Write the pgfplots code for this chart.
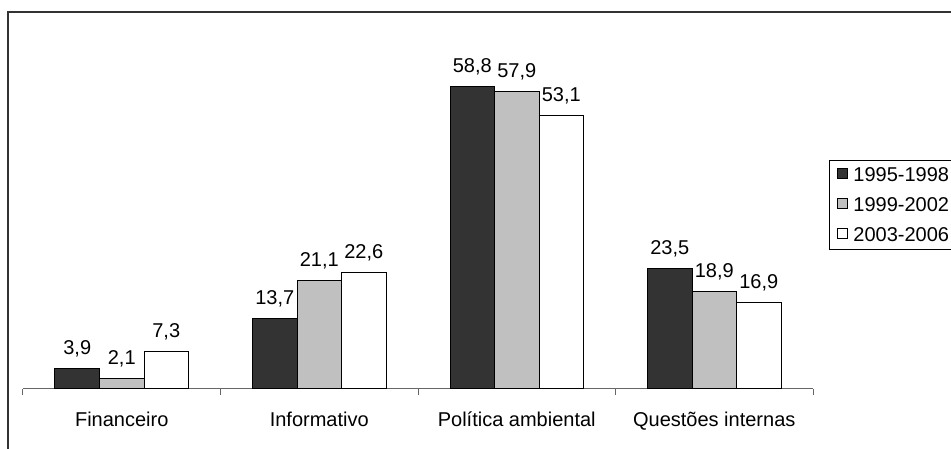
\documentclass[border=0pt]{standalone}
\usepackage{fontspec}
\setmainfont{Liberation Sans}
\usepackage{pgfplots}
\pgfplotsset{compat=1.18}
\definecolor{darkbar}{HTML}{333333}
\definecolor{graybar}{HTML}{C0C0C0}
\begin{document}
\begin{tikzpicture}[x=1pt,y=1pt]
\useasboundingbox (0,0) rectangle (951,449);
\clip (0,0) rectangle (951,449);
\draw[line width=1.6pt, color=black!80] (8,0) -- (8,437) -- (960,437);
\begin{axis}[
  at={(23pt,60pt)}, anchor=south west,
  scale only axis, width=790pt, height=360pt,
  xmin=-0.5, xmax=3.5, ymin=0, ymax=70,
  enlargelimits=false,
  hide y axis,
  axis x line*=bottom,
  x axis line style={-, color=black!60, line width=1pt},
  xtick={0,1,2,3},
  xticklabels={Financeiro, Informativo, Política ambiental, Questões internas},
  major tick length=0pt,
  minor xtick={-0.5,0.5,1.5,2.5,3.5},
  minor tick length=6pt,
  tick align=outside,
  minor tick style={color=black!60, line width=1pt},
  xticklabel style={font=\fontsize{20}{24}\selectfont, anchor=base, yshift=-38pt},
  ybar, bar width=44.5pt, ybar=0pt,
  /pgf/number format/.cd, use comma, fixed, fixed zerofill, precision=1, assume math mode=true,
  /pgfplots/.cd,
  nodes near coords,
  every node near coord/.append style={font=\fontsize{20}{24}\selectfont, anchor=base, yshift=14pt, color=black},
  legend style={at={(806pt,229pt)}, anchor=north west, draw=black, line width=0.8pt,
    font=\fontsize{20}{24}\selectfont, row sep=10.5pt,
    inner xsep=7pt, inner ysep=5pt,
    cells={anchor=west}},
  legend cell align=left,
  legend image code/.code={\draw[#1, line width=0.8pt] (0pt,-3pt) rectangle (10pt,7pt); \path (0pt,0pt) (14pt,0pt);},
]
\addplot[fill=darkbar, draw=black, line width=1pt] coordinates {(0,3.9) (1,13.7) (2,58.8) (3,23.5)};
\addplot[fill=graybar, draw=black, line width=1pt] coordinates {(0,2.1) (1,21.1) (2,57.9) (3,18.9)};
\addplot[fill=white, draw=black, line width=1pt] coordinates {(0,7.3) (1,22.6) (2,53.1) (3,16.9)};
\legend{1995-1998, 1999-2002, 2003-2006}
\end{axis}
\end{tikzpicture}
\end{document}
